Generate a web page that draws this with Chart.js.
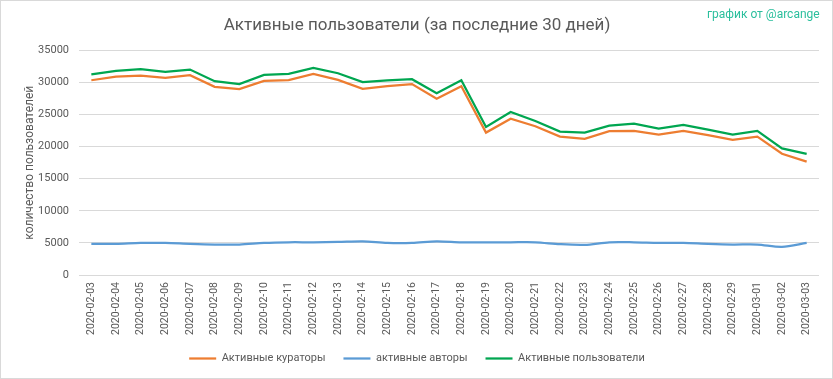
<!DOCTYPE html>
<html><head><meta charset="utf-8">
<script src="https://cdn.jsdelivr.net/npm/chart.js@4"></script>
<style>
html,body{margin:0;padding:0;background:#fff;}
#wrap{position:relative;width:833px;height:379px;box-sizing:border-box;border:1px solid #d9d9d9;background:#fff;}
#credit{position:absolute;left:706px;top:6px;font:12px Roboto, sans-serif;color:#2bbf9d;white-space:nowrap;}
canvas{display:block;}
</style></head><body>
<div id="wrap"><canvas id="c" width="831" height="377"></canvas><div id="credit">график от @arcange</div></div>
<script>
const categories = ["2020-02-03","2020-02-04","2020-02-05","2020-02-06","2020-02-07","2020-02-08","2020-02-09","2020-02-10","2020-02-11","2020-02-12","2020-02-13","2020-02-14","2020-02-15","2020-02-16","2020-02-17","2020-02-18","2020-02-19","2020-02-20","2020-02-21","2020-02-22","2020-02-23","2020-02-24","2020-02-25","2020-02-26","2020-02-27","2020-02-28","2020-02-29","2020-03-01","2020-03-02","2020-03-03"];
const curators = [30350,30930,31080,30710,31130,29320,28960,30250,30360,31330,30400,29010,29430,29740,27460,29430,22190,24360,23180,21570,21220,22410,22460,21880,22460,21790,21060,21570,18890,17660];
const authors = [4850,4850,5000,5000,4850,4750,4750,5000,5100,5100,5150,5250,5000,5000,5250,5100,5100,5100,5100,4800,4700,5100,5100,5000,5000,4850,4750,4750,4400,5000];
const users = [31280,31800,32100,31640,32010,30200,29740,31180,31330,32260,31440,30050,30310,30510,28340,30360,23070,25400,24000,22350,22190,23280,23590,22810,23390,22660,21880,22460,19720,18890];
const yTicks = {min:0, max:35000, step:5000};
const seriesNames = ["Активные кураторы","активные авторы","Активные пользователи"];
const titleText = "Активные пользователи (за последние 30 дней)";
const yTitle = "количество пользователей";

const grey = '#595959';
new Chart(document.getElementById('c'), {
  type:'line',
  data:{
    labels:categories,
    datasets:[
      {label:seriesNames[0], data:curators, borderColor:'#ED7D31', backgroundColor:'#ED7D31', borderWidth:2.25, pointRadius:0, tension:0},
      {label:seriesNames[1], data:authors, borderColor:'#5B9BD5', backgroundColor:'#5B9BD5', borderWidth:2.25, pointRadius:0, tension:0.3},
      {label:seriesNames[2], data:users, borderColor:'#00A650', backgroundColor:'#00A650', borderWidth:2.25, pointRadius:0, tension:0}
    ]
  },
  options:{
    responsive:false, animation:false, devicePixelRatio:1,
    layout:{padding:{left:14,right:13,top:0,bottom:4}},
    plugins:{
      title:{display:true, text:titleText, color:grey, font:{family:'Roboto', size:17, weight:'normal'}, padding:{top:15,bottom:14}},
      legend:{position:'bottom', labels:{usePointStyle:true, pointStyle:'line', pointStyleWidth:27, padding:18, color:grey, font:{family:'Roboto', size:11}}},
      tooltip:{enabled:false}
    },
    scales:{
      y:{min:yTicks.min, max:yTicks.max,
        ticks:{stepSize:yTicks.step, color:grey, padding:10, font:{family:'Roboto', size:11}, callback:(v)=>String(v)},
        grid:{color:'#d9d9d9', drawTicks:false, lineWidth:1},
        border:{display:false},
        title:{display:true, text:yTitle, color:grey, font:{family:'Roboto', size:12}, padding:{top:8,bottom:4}},
        afterFit:(s)=>{s.width=64;}
      },
      x:{offset:true,
        ticks:{minRotation:90, maxRotation:90, autoSkip:false, color:grey, padding:7, font:{family:'Roboto', size:10.5}},
        grid:{display:false, drawTicks:false},
        border:{display:false},
        afterFit:(s)=>{s.height=60; s._computeLabelArea=()=>null;}
      }
    }
  }
});
</script>
</body></html>
